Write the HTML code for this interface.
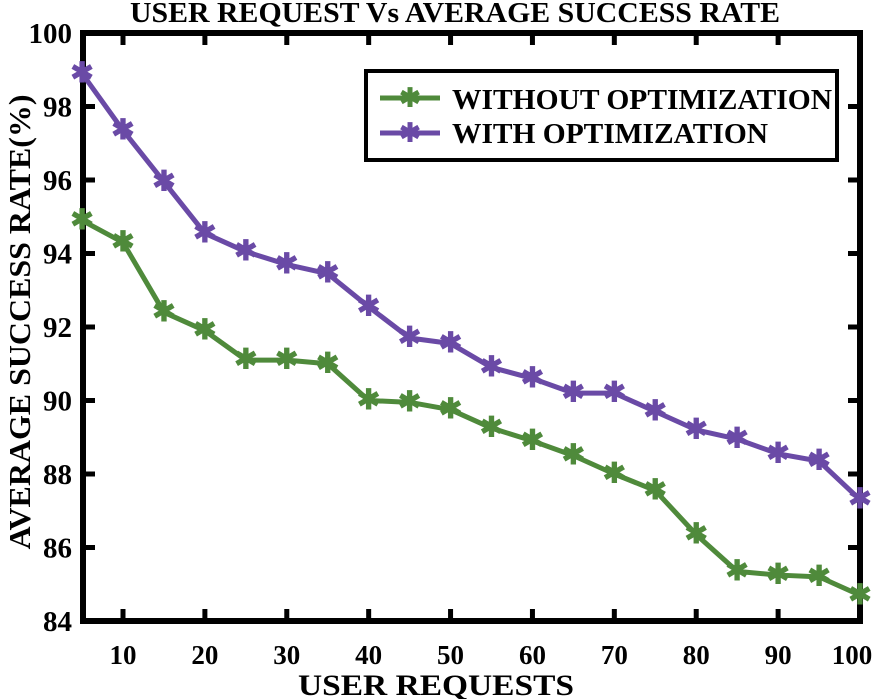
<!DOCTYPE html>
<html><head><meta charset="utf-8"><style>
body{margin:0;background:#fff}
svg{display:block;font-family:"Liberation Serif",serif;font-weight:bold}
</style></head><body>
<svg id="chart" width="878" height="699">
<text x="455" y="22" text-anchor="middle" font-size="29" textLength="650" lengthAdjust="spacingAndGlyphs">USER REQUEST Vs AVERAGE SUCCESS RATE</text>
<text x="436" y="695" text-anchor="middle" font-size="30" textLength="276" lengthAdjust="spacingAndGlyphs">USER REQUESTS</text>
<text transform="translate(30,322) rotate(-90)" text-anchor="middle" font-size="31" textLength="455" lengthAdjust="spacingAndGlyphs">AVERAGE SUCCESS RATE(%)</text>
<g id="axes"></g>
<g id="series"></g>
<g>
<rect x="366" y="71" width="471" height="89" fill="#fff" stroke="#000" stroke-width="4"/>
<line x1="380" y1="98" x2="440" y2="98" stroke="#4f8a3b" stroke-width="5"/>
<text x="410" y="98" fill="#4f8a3b" font-size="26" text-anchor="middle" dominant-baseline="central">✱</text>
<text x="452" y="109" font-size="29" textLength="380" lengthAdjust="spacingAndGlyphs">WITHOUT OPTIMIZATION</text>
<line x1="380" y1="133" x2="440" y2="133" stroke="#6a4aa6" stroke-width="5"/>
<text x="410" y="133" fill="#6a4aa6" font-size="26" text-anchor="middle" dominant-baseline="central">✱</text>
<text x="452" y="143" font-size="29" textLength="316" lengthAdjust="spacingAndGlyphs">WITH OPTIMIZATION</text>
</g>
</svg>
<script>
const xs = [5,10,15,20,25,30,35,40,45,50,55,60,65,70,75,80,85,90,95,100];
const withoutOpt = [94.9,94.3,92.4,91.9,91.1,91.1,91.0,90.0,89.95,89.75,89.25,88.9,88.5,88.0,87.55,86.35,85.35,85.25,85.2,84.7];
const withOpt = [98.9,97.35,95.95,94.55,94.05,93.7,93.45,92.55,91.7,91.55,90.9,90.6,90.2,90.2,89.7,89.2,88.95,88.55,88.35,87.3];
const xTicks = [10,20,30,40,50,60,70,80,90,100];
const yTicks = [84,86,88,90,92,94,96,98,100];
const NS="http://www.w3.org/2000/svg";
const L=83,R=860,T=33,B=621;
function X(v){return 123+(v-10)*(R-123)/90;}
function Y(v){return B-(v-84)*(B-T)/16;}
function mk(tag,attrs,parent){const e=document.createElementNS(NS,tag);for(const k in attrs)e.setAttribute(k,attrs[k]);parent.appendChild(e);return e;}
const axes=document.getElementById('axes');
const frame=mk('rect',{x:L,y:T,width:R-L,height:B-T,fill:'none',stroke:'#000','stroke-width':6},axes);


xTicks.forEach(t=>{
  const x=X(t);
  if(t<100){mk('line',{x1:x,y1:B,x2:x,y2:B-12,stroke:'#000','stroke-width':5},axes);
  mk('line',{x1:x,y1:T,x2:x,y2:T+12,stroke:'#000','stroke-width':5},axes);}
  const tx=mk('text',{x:t==100?X(t)-8:x,y:664,'text-anchor':'middle','font-size':27},axes);
  tx.textContent=t;
  
  
});
yTicks.forEach(t=>{
  const y=Y(t);
  if(t>84&&t<100){mk('line',{x1:L,y1:y,x2:L+12,y2:y,stroke:'#000','stroke-width':5},axes);
  mk('line',{x1:R,y1:y,x2:R-12,y2:y,stroke:'#000','stroke-width':5},axes);}
  const tx=mk('text',{x:72,y:y+10,'text-anchor':'end','font-size':29},axes);
  tx.textContent=t;
  
  
});
const sg=document.getElementById('series');
function draw(vals,color,name){
  const g=mk('g',{},sg);
  
  
  mk('polyline',{points:vals.map((v,i)=>X(xs[i])+','+Y(v)).join(' '),fill:'none',stroke:color,'stroke-width':5,'stroke-linejoin':'round'},g);
  vals.forEach((v,i)=>{
    const m=mk('text',{x:X(xs[i]),y:Y(v),fill:color,'font-size':28,'text-anchor':'middle','dominant-baseline':'central'},g);
    m.textContent='✱';
    
    
  });
}
draw(withoutOpt,'#4f8a3b','series-without-optimization');
draw(withOpt,'#6a4aa6','series-with-optimization');
</script>
</body></html>
